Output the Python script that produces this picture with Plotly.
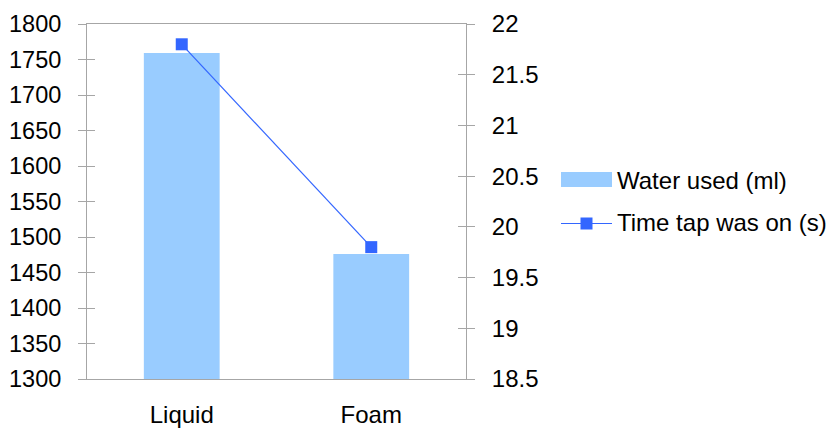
import plotly.graph_objects as go

categories = ["Liquid", "Foam"]
water_used_ml = [1759, 1476]
tap_time_s = [21.8, 19.8]

bar_color = "#99CCFF"
line_color = "#3366FF"
axis_gray = "#A6A6A6"
font_family = "Liberation Sans, Arial, sans-serif"
font_size = 24

fig = go.Figure()

fig.add_trace(go.Bar(
    x=categories, y=water_used_ml, name="Water used (ml)",
    marker=dict(color=bar_color, line=dict(width=0)),
    yaxis="y", showlegend=False,
))
fig.add_trace(go.Scatter(
    x=categories, y=tap_time_s, name="Time tap was on (s)",
    mode="lines+markers",
    line=dict(color=line_color, width=1.2),
    marker=dict(symbol="square", size=12, color=line_color),
    yaxis="y2", showlegend=False,
))
# empty traces so the inner-tick overlay axes are drawn
fig.add_trace(go.Scatter(x=[], y=[], yaxis="y3", showlegend=False, hoverinfo="skip"))
fig.add_trace(go.Scatter(x=[], y=[], yaxis="y4", showlegend=False, hoverinfo="skip"))

left_range = [1300, 1800]
right_range = [18.5, 22]

common_y = dict(showgrid=False, zeroline=False, linecolor=axis_gray, linewidth=1,
                tickcolor=axis_gray, tickwidth=1, ticklen=8, automargin=False)

fig.update_layout(
    width=833, height=428,
    margin=dict(l=87, r=367, t=24, b=49),
    paper_bgcolor="white", plot_bgcolor="white",
    font=dict(family=font_family, size=font_size, color="black"),
    bargap=0.6,
    xaxis=dict(showgrid=False, zeroline=False, showline=True, mirror=True,
               linecolor=axis_gray, linewidth=1, ticks="", automargin=False,
               ticklabelstandoff=14, tickfont=dict(size=font_size)),
    yaxis=dict(range=left_range, dtick=50, side="left", showline=True,
               ticks="outside", ticklabelstandoff=12, tickfont=dict(size=23.5),
               **common_y),
    yaxis2=dict(range=right_range, dtick=0.5, side="right", overlaying="y",
                showline=True, ticks="outside", ticklabelstandoff=12,
                tickfont=dict(size=font_size), **common_y),
    yaxis3=dict(range=left_range, dtick=50, side="left", overlaying="y",
                showline=False, ticks="inside", showticklabels=False, **common_y),
    yaxis4=dict(range=right_range, dtick=0.5, side="right", overlaying="y",
                showline=False, ticks="inside", showticklabels=False, **common_y),
)

# legend drawn beside the plot area
def px_x(px):
    return (px - 87) / 379

def px_y(py):
    return (379 - py) / 355

fig.add_shape(type="rect", xref="paper", yref="paper",
              x0=px_x(561), x1=px_x(612), y0=px_y(187), y1=px_y(172),
              fillcolor=bar_color, line=dict(width=0))
fig.add_shape(type="line", xref="paper", yref="paper",
              x0=px_x(561), x1=px_x(612), y0=px_y(223.5), y1=px_y(223.5),
              line=dict(color=line_color, width=1.2))
fig.add_shape(type="rect", xref="paper", yref="paper",
              x0=px_x(580.5), x1=px_x(592.5), y0=px_y(229.5), y1=px_y(217.5),
              fillcolor=line_color, line=dict(width=0))
fig.add_annotation(xref="paper", yref="paper", x=px_x(615), y=px_y(180),
                   text="Water used (ml)", showarrow=False,
                   xanchor="left", yanchor="middle", font=dict(size=font_size))
fig.add_annotation(xref="paper", yref="paper", x=px_x(615), y=px_y(222.5),
                   text="Time tap was on (s)", showarrow=False,
                   xanchor="left", yanchor="middle", font=dict(size=font_size))

fig.write_html("out.html")
